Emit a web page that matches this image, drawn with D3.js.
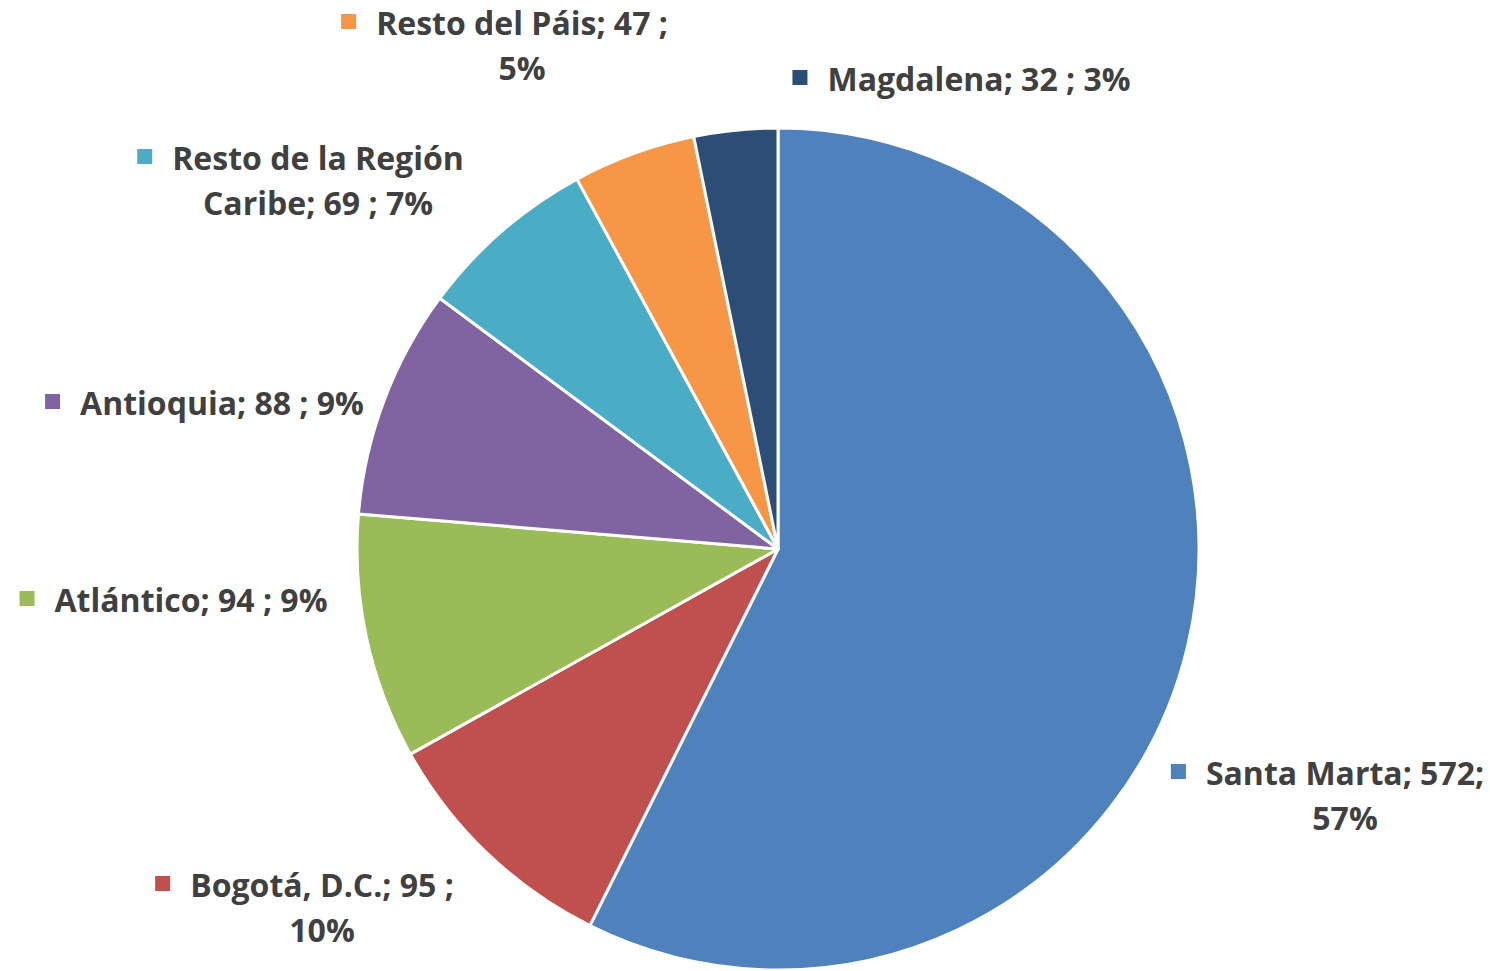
<!DOCTYPE html>
<html>
<head>
<meta charset="utf-8">
<script src="https://cdn.jsdelivr.net/npm/d3@7"></script>
<style>
  html, body { margin: 0; padding: 0; background: #fff; }
  svg { display: block; }
  .label { font-family: "Open Sans", Lato, sans-serif; font-weight: 700; fill: #404040; }
</style>
</head>
<body>
<div id="chart"></div>
<script>
const categories = ["Santa Marta", "Bogotá, D.C.", "Atlántico", "Antioquia", "Resto de la Región Caribe", "Resto del Páis", "Magdalena"];
const values = [572, 95, 94, 88, 69, 47, 32];
const colors = ["#4F81BD", "#C0504D", "#9BBB59", "#8064A2", "#4BACC6", "#F79646", "#2C4D75"];

// label placement: centre x of text block, baseline of first line, words on first line
const labelLayout = [
  { cx: 1345, y: 785, firstWords: 3, sep: ";" },
  { cx: 322, y: 897, firstWords: 4 },
  { cx: 191, y: 612, firstWords: 99 },
  { cx: 222, y: 415, firstWords: 99 },
  { cx: 318, y: 170, firstWords: 4 },
  { cx: 522, y: 35, firstWords: 5 },
  { cx: 979, y: 91, firstWords: 99 },
];

const width = 1490;
const height = 971;
const cx = 778;
const cy = 549;
const r = 421;
const lineH = 45;
const fontSize = 32;

const svg = d3.select("#chart").append("svg")
  .attr("width", width)
  .attr("height", height);

const data = categories.map((c, i) => ({ name: c, value: values[i], color: colors[i] }));
const total = d3.sum(values);
const pct = d3.format(".0%");

const pie = d3.pie().value((d) => d.value).sort(null);
const arc = d3.arc().innerRadius(0).outerRadius(r);

svg.append("g")
  .attr("transform", `translate(${cx},${cy})`)
  .selectAll("path")
  .data(pie(data))
  .join("path")
  .attr("d", arc)
  .attr("fill", (d) => d.data.color)
  .attr("stroke", "#fff")
  .attr("stroke-width", 3)
  .attr("stroke-linejoin", "round");

const labels = svg.append("g");

data.forEach((d, i) => {
  const lay = labelLayout[i];
  const sep2 = lay.sep || " ;";
  const full = `${d.name}; ${d.value}${sep2} ${pct(d.value / total)}`;
  const words = full.split(" ");
  const lines = [words.slice(0, lay.firstWords).join(" ")];
  if (words.length > lay.firstWords) lines.push(words.slice(lay.firstWords).join(" "));

  const g = labels.append("g");
  const texts = g.selectAll("text")
    .data(lines)
    .join("text")
    .attr("class", "label")
    .attr("font-size", fontSize)
    .attr("text-anchor", "middle")
    .attr("x", lay.cx)
    .attr("y", (l, j) => lay.y + j * lineH)
    .text((l) => l);

  const w0 = texts.nodes()[0].getComputedTextLength();
  g.append("rect")
    .attr("x", lay.cx - w0 / 2 - 35)
    .attr("y", lay.y - 21)
    .attr("width", 15)
    .attr("height", 15)
    .attr("fill", d.color);
});
</script>
</body>
</html>
